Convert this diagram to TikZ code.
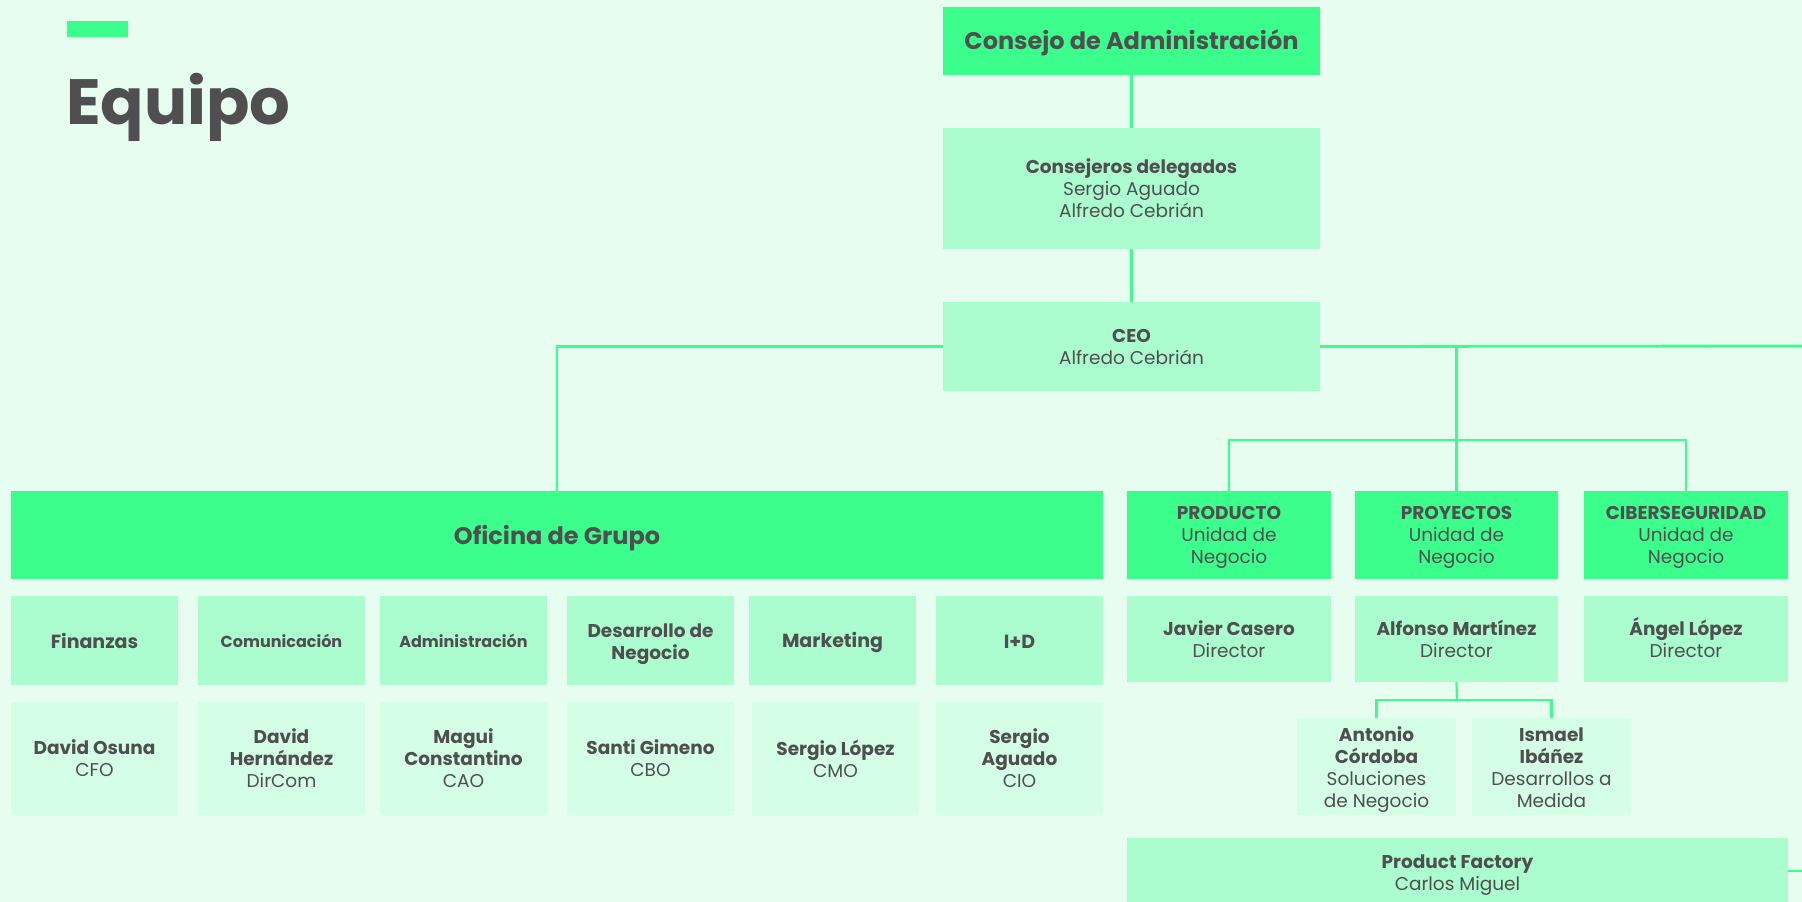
\documentclass[tikz,border=0pt]{standalone}
\usepackage{fontspec}
\setmainfont{Poppins}
\definecolor{bg}{HTML}{E6FDF0}
\definecolor{bright}{HTML}{3BFE8C}
\definecolor{light}{HTML}{ABFDCF}
\definecolor{pale}{HTML}{D4FEE6}
\definecolor{txt}{HTML}{4F4F4F}
\newcommand\fs[1]{\fontsize{#1}{22}\selectfont}
% \bx[text shift down]{name}{x1}{y1}{x2}{y2}{style}{text}
\newcommand\bx[8][0]{\node[#7, minimum width={(#5)-(#3)}, minimum height={(#6)-(#4)},
  label={[base, yshift=-#1pt]center:{#8}}] (#2) at ({((#3)+(#5))/2},{((#4)+(#6))/2}) {};}
\tikzset{
  base/.style={inner sep=0pt, outer sep=0pt, align=center, text=txt, font=\fs{18.5}},
  brightbox/.style={base, fill=bright},
  lightbox/.style={base, fill=light},
  palebox/.style={base, fill=pale},
  link/.style={draw=bright, line width=2.2pt}
}
\begin{document}
\begin{tikzpicture}[x=1pt,y=-1pt]
\fill[bg] (0,0) rectangle (1802,902);
\useasboundingbox (0,0) rectangle (1802,902);
\clip (0,0) rectangle (1802,902);
% title
\fill[bright] (67,21) rectangle (128,37);
\node[anchor=base west, inner sep=0pt, text=txt, font=\fontsize{64}{70}\selectfont\bfseries] (title) at (66,124) {Equipo};
% top chain
\bx[2]{consejo}{943}{7}{1320}{75}{brightbox}{\fs{24}\bfseries Consejo de Administración}
\bx{consejeros}{943}{128}{1320}{249}{lightbox}{\textbf{Consejeros delegados}\\Sergio Aguado\\Alfredo Cebrián}
\bx{ceo}{943}{302}{1320}{391}{lightbox}{\textbf{CEO}\\Alfredo Cebrián}
% oficina
\bx[3.5]{oficina}{11}{491}{1103}{579}{brightbox}{\fs{24}\bfseries Oficina de Grupo}
\bx{finanzas}{11}{596}{178}{685}{lightbox}{\fs{19}\bfseries Finanzas}
\bx{comunicacion}{198}{596}{365}{685}{lightbox}{\fs{16}\bfseries Comunicación}
\bx{administracion}{380}{596}{547}{685}{lightbox}{\fs{16}\bfseries Administración}
\bx[3.5]{desarrollo}{567}{596}{734}{685}{lightbox}{\textbf{Desarrollo de}\\\textbf{Negocio}}
\bx[2.3]{marketing}{749}{596}{916}{685}{lightbox}{\fs{19}\bfseries Marketing}
\bx[1]{imasd}{936}{596}{1103}{685}{lightbox}{\fs{19}\bfseries I+D}
\bx{osuna}{11}{702}{178}{815}{palebox}{\textbf{David Osuna}\\CFO}
\bx{hernandez}{198}{702}{365}{815}{palebox}{\textbf{David}\\\textbf{Hernández}\\DirCom}
\bx{constantino}{380}{702}{547}{815}{palebox}{\textbf{Magui}\\\textbf{Constantino}\\CAO}
\bx{gimeno}{567}{702}{734}{815}{palebox}{\textbf{Santi Gimeno}\\CBO}
\bx{slopez}{752}{702}{919}{815}{palebox}{\textbf{Sergio López}\\CMO}
\bx{aguado}{936}{702}{1103}{815}{palebox}{\textbf{Sergio}\\\textbf{Aguado}\\CIO}
% business units
\bx[2.3]{producto}{1127}{491}{1331}{579}{brightbox}{\textbf{PRODUCTO}\\Unidad de\\Negocio}
\bx[2.3]{proyectos}{1355}{491}{1558}{579}{brightbox}{\textbf{PROYECTOS}\\Unidad de\\Negocio}
\bx[2.3]{ciber}{1584}{491}{1788}{579}{brightbox}{\textbf{CIBERSEGURIDAD}\\Unidad de\\Negocio}
\bx{casero}{1127}{596}{1331}{682}{lightbox}{\textbf{Javier Casero}\\Director}
\bx{martinez}{1355}{596}{1558}{682}{lightbox}{\textbf{Alfonso Martínez}\\Director}
\bx[-1]{alopez}{1584}{596}{1788}{682}{lightbox}{\textbf{Ángel López}\\Director}
\bx[3.5]{cordoba}{1297}{718}{1456}{815}{palebox}{\textbf{Antonio}\\\textbf{Córdoba}\\Soluciones\\de Negocio}
\bx[1.2]{ibanez}{1472}{718}{1631}{815}{palebox}{\textbf{Ismael}\\\textbf{Ibáñez}\\Desarrollos a\\Medida}
\bx[4.6]{factory}{1127}{838}{1788}{904}{lightbox}{\textbf{Product Factory}\\Carlos Miguel}
% connectors
\coordinate (edgeA) at (1802,346);
\coordinate (edgeB) at (1802,871);
\coordinate (busU) at (1457,440);
\coordinate (busD) at (1457,700);
\draw[link] (consejo) -- (consejeros);
\draw[link] (consejeros) -- (ceo);
\draw[link] (ceo.west) -| (oficina.north);
\draw[link, line width=2.8pt] (ceo.east) -- (edgeA);
\draw[link] (proyectos.north |- ceo.east) -- (proyectos.north);
\draw[link] (producto.north) |- (busU);
\draw[link] (ciber.north) |- (busU);
\draw[link] (martinez.south) -- (busD);
\draw[link] (cordoba.north) |- (busD);
\draw[link] (ibanez.north) |- (busD);
\draw[link] (factory.east) -- (edgeB);
\end{tikzpicture}
\end{document}
